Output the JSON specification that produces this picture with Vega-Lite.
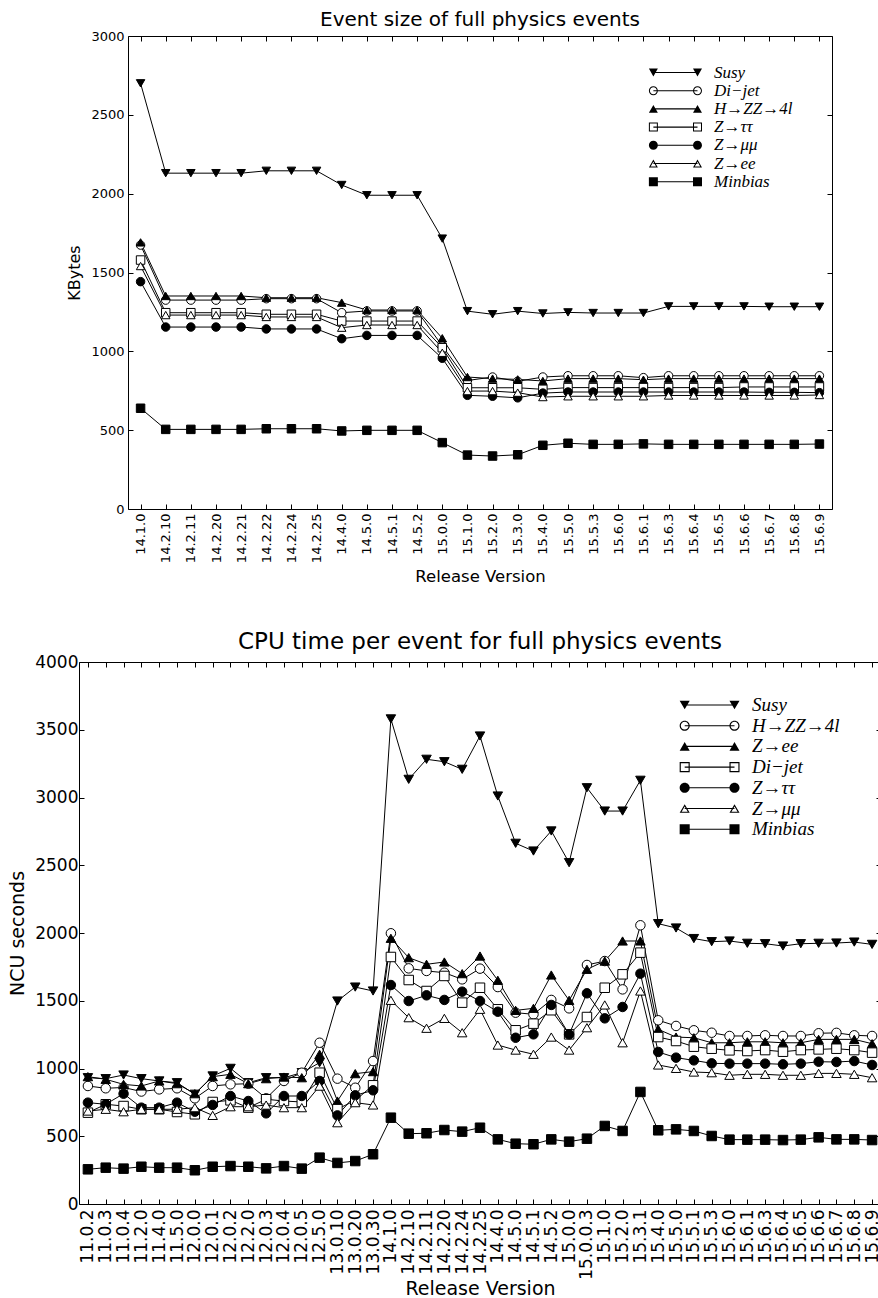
{
"$schema": "https://vega.github.io/schema/vega-lite/v6.json",
"background": "white",
"padding": {"left": 8, "top": 9, "right": 0, "bottom": 0},
"config": {
  "view": {"stroke": "black", "strokeWidth": 1},
  "font": "DejaVu Sans",
  "axis": {"labelFont": "DejaVu Sans", "titleFont": "DejaVu Sans", "labelColor": "black", "titleColor": "black", "tickColor": "black", "titleFontWeight": "normal", "grid": false, "domain": false, "tickWidth": 1},
  "title": {"font": "DejaVu Sans", "fontWeight": "normal", "color": "black"}
},
"datasets": {
"size": [
{"v":"14.1.0","s":"Susy","y":2700},{"v":"14.2.10","s":"Susy","y":2130},{"v":"14.2.11","s":"Susy","y":2130},{"v":"14.2.20","s":"Susy","y":2130},{"v":"14.2.21","s":"Susy","y":2130},{"v":"14.2.22","s":"Susy","y":2145},{"v":"14.2.24","s":"Susy","y":2145},{"v":"14.2.25","s":"Susy","y":2145},{"v":"14.4.0","s":"Susy","y":2055},{"v":"14.5.0","s":"Susy","y":1990},{"v":"14.5.1","s":"Susy","y":1990},{"v":"14.5.2","s":"Susy","y":1990},{"v":"15.0.0","s":"Susy","y":1715},{"v":"15.1.0","s":"Susy","y":1255},{"v":"15.2.0","s":"Susy","y":1235},{"v":"15.3.0","s":"Susy","y":1255},{"v":"15.4.0","s":"Susy","y":1240},{"v":"15.5.0","s":"Susy","y":1247},{"v":"15.5.3","s":"Susy","y":1243},{"v":"15.6.0","s":"Susy","y":1243},{"v":"15.6.1","s":"Susy","y":1243},{"v":"15.6.3","s":"Susy","y":1285},{"v":"15.6.4","s":"Susy","y":1285},{"v":"15.6.5","s":"Susy","y":1285},{"v":"15.6.6","s":"Susy","y":1285},{"v":"15.6.7","s":"Susy","y":1283},{"v":"15.6.8","s":"Susy","y":1283},{"v":"15.6.9","s":"Susy","y":1283},
{"v":"14.1.0","s":"Di−jet","y":1674},{"v":"14.2.10","s":"Di−jet","y":1325},{"v":"14.2.11","s":"Di−jet","y":1325},{"v":"14.2.20","s":"Di−jet","y":1325},{"v":"14.2.21","s":"Di−jet","y":1325},{"v":"14.2.22","s":"Di−jet","y":1334},{"v":"14.2.24","s":"Di−jet","y":1334},{"v":"14.2.25","s":"Di−jet","y":1334},{"v":"14.4.0","s":"Di−jet","y":1245},{"v":"14.5.0","s":"Di−jet","y":1256},{"v":"14.5.1","s":"Di−jet","y":1256},{"v":"14.5.2","s":"Di−jet","y":1256},{"v":"15.0.0","s":"Di−jet","y":1034},{"v":"15.1.0","s":"Di−jet","y":815},{"v":"15.2.0","s":"Di−jet","y":837},{"v":"15.3.0","s":"Di−jet","y":810},{"v":"15.4.0","s":"Di−jet","y":837},{"v":"15.5.0","s":"Di−jet","y":845},{"v":"15.5.3","s":"Di−jet","y":845},{"v":"15.6.0","s":"Di−jet","y":845},{"v":"15.6.1","s":"Di−jet","y":833},{"v":"15.6.3","s":"Di−jet","y":845},{"v":"15.6.4","s":"Di−jet","y":845},{"v":"15.6.5","s":"Di−jet","y":845},{"v":"15.6.6","s":"Di−jet","y":845},{"v":"15.6.7","s":"Di−jet","y":845},{"v":"15.6.8","s":"Di−jet","y":845},{"v":"15.6.9","s":"Di−jet","y":845},
{"v":"14.1.0","s":"H→ZZ→4l","y":1691},{"v":"14.2.10","s":"H→ZZ→4l","y":1351},{"v":"14.2.11","s":"H→ZZ→4l","y":1351},{"v":"14.2.20","s":"H→ZZ→4l","y":1351},{"v":"14.2.21","s":"H→ZZ→4l","y":1351},{"v":"14.2.22","s":"H→ZZ→4l","y":1340},{"v":"14.2.24","s":"H→ZZ→4l","y":1340},{"v":"14.2.25","s":"H→ZZ→4l","y":1340},{"v":"14.4.0","s":"H→ZZ→4l","y":1309},{"v":"14.5.0","s":"H→ZZ→4l","y":1262},{"v":"14.5.1","s":"H→ZZ→4l","y":1262},{"v":"14.5.2","s":"H→ZZ→4l","y":1262},{"v":"15.0.0","s":"H→ZZ→4l","y":1083},{"v":"15.1.0","s":"H→ZZ→4l","y":837},{"v":"15.2.0","s":"H→ZZ→4l","y":827},{"v":"15.3.0","s":"H→ZZ→4l","y":822},{"v":"15.4.0","s":"H→ZZ→4l","y":812},{"v":"15.5.0","s":"H→ZZ→4l","y":827},{"v":"15.5.3","s":"H→ZZ→4l","y":827},{"v":"15.6.0","s":"H→ZZ→4l","y":827},{"v":"15.6.1","s":"H→ZZ→4l","y":820},{"v":"15.6.3","s":"H→ZZ→4l","y":827},{"v":"15.6.4","s":"H→ZZ→4l","y":827},{"v":"15.6.5","s":"H→ZZ→4l","y":827},{"v":"15.6.6","s":"H→ZZ→4l","y":827},{"v":"15.6.7","s":"H→ZZ→4l","y":827},{"v":"15.6.8","s":"H→ZZ→4l","y":827},{"v":"15.6.9","s":"H→ZZ→4l","y":827},
{"v":"14.1.0","s":"Z→ττ","y":1579},{"v":"14.2.10","s":"Z→ττ","y":1245},{"v":"14.2.11","s":"Z→ττ","y":1245},{"v":"14.2.20","s":"Z→ττ","y":1245},{"v":"14.2.21","s":"Z→ττ","y":1245},{"v":"14.2.22","s":"Z→ττ","y":1235},{"v":"14.2.24","s":"Z→ττ","y":1235},{"v":"14.2.25","s":"Z→ττ","y":1235},{"v":"14.4.0","s":"Z→ττ","y":1192},{"v":"14.5.0","s":"Z→ττ","y":1192},{"v":"14.5.1","s":"Z→ττ","y":1192},{"v":"14.5.2","s":"Z→ττ","y":1192},{"v":"15.0.0","s":"Z→ττ","y":1023},{"v":"15.1.0","s":"Z→ττ","y":769},{"v":"15.2.0","s":"Z→ττ","y":769},{"v":"15.3.0","s":"Z→ττ","y":769},{"v":"15.4.0","s":"Z→ττ","y":759},{"v":"15.5.0","s":"Z→ττ","y":770},{"v":"15.5.3","s":"Z→ττ","y":770},{"v":"15.6.0","s":"Z→ττ","y":770},{"v":"15.6.1","s":"Z→ττ","y":770},{"v":"15.6.3","s":"Z→ττ","y":770},{"v":"15.6.4","s":"Z→ττ","y":770},{"v":"15.6.5","s":"Z→ττ","y":770},{"v":"15.6.6","s":"Z→ττ","y":774},{"v":"15.6.7","s":"Z→ττ","y":774},{"v":"15.6.8","s":"Z→ττ","y":774},{"v":"15.6.9","s":"Z→ττ","y":774},
{"v":"14.1.0","s":"Z→μμ","y":1442},{"v":"14.2.10","s":"Z→μμ","y":1154},{"v":"14.2.11","s":"Z→μμ","y":1154},{"v":"14.2.20","s":"Z→μμ","y":1154},{"v":"14.2.21","s":"Z→μμ","y":1154},{"v":"14.2.22","s":"Z→μμ","y":1142},{"v":"14.2.24","s":"Z→μμ","y":1142},{"v":"14.2.25","s":"Z→μμ","y":1142},{"v":"14.4.0","s":"Z→μμ","y":1080},{"v":"14.5.0","s":"Z→μμ","y":1101},{"v":"14.5.1","s":"Z→μμ","y":1101},{"v":"14.5.2","s":"Z→μμ","y":1101},{"v":"15.0.0","s":"Z→μμ","y":956},{"v":"15.1.0","s":"Z→μμ","y":721},{"v":"15.2.0","s":"Z→μμ","y":715},{"v":"15.3.0","s":"Z→μμ","y":705},{"v":"15.4.0","s":"Z→μμ","y":735},{"v":"15.5.0","s":"Z→μμ","y":742},{"v":"15.5.3","s":"Z→μμ","y":742},{"v":"15.6.0","s":"Z→μμ","y":742},{"v":"15.6.1","s":"Z→μμ","y":742},{"v":"15.6.3","s":"Z→μμ","y":742},{"v":"15.6.4","s":"Z→μμ","y":742},{"v":"15.6.5","s":"Z→μμ","y":742},{"v":"15.6.6","s":"Z→μμ","y":742},{"v":"15.6.7","s":"Z→μμ","y":740},{"v":"15.6.8","s":"Z→μμ","y":740},{"v":"15.6.9","s":"Z→μμ","y":738},
{"v":"14.1.0","s":"Z→ee","y":1541},{"v":"14.2.10","s":"Z→ee","y":1230},{"v":"14.2.11","s":"Z→ee","y":1230},{"v":"14.2.20","s":"Z→ee","y":1230},{"v":"14.2.21","s":"Z→ee","y":1230},{"v":"14.2.22","s":"Z→ee","y":1218},{"v":"14.2.24","s":"Z→ee","y":1218},{"v":"14.2.25","s":"Z→ee","y":1218},{"v":"14.4.0","s":"Z→ee","y":1150},{"v":"14.5.0","s":"Z→ee","y":1167},{"v":"14.5.1","s":"Z→ee","y":1167},{"v":"14.5.2","s":"Z→ee","y":1167},{"v":"15.0.0","s":"Z→ee","y":991},{"v":"15.1.0","s":"Z→ee","y":748},{"v":"15.2.0","s":"Z→ee","y":748},{"v":"15.3.0","s":"Z→ee","y":738},{"v":"15.4.0","s":"Z→ee","y":710},{"v":"15.5.0","s":"Z→ee","y":715},{"v":"15.5.3","s":"Z→ee","y":715},{"v":"15.6.0","s":"Z→ee","y":715},{"v":"15.6.1","s":"Z→ee","y":715},{"v":"15.6.3","s":"Z→ee","y":720},{"v":"15.6.4","s":"Z→ee","y":720},{"v":"15.6.5","s":"Z→ee","y":720},{"v":"15.6.6","s":"Z→ee","y":720},{"v":"15.6.7","s":"Z→ee","y":720},{"v":"15.6.8","s":"Z→ee","y":720},{"v":"15.6.9","s":"Z→ee","y":723},
{"v":"14.1.0","s":"Minbias","y":639},{"v":"14.2.10","s":"Minbias","y":505},{"v":"14.2.11","s":"Minbias","y":505},{"v":"14.2.20","s":"Minbias","y":505},{"v":"14.2.21","s":"Minbias","y":505},{"v":"14.2.22","s":"Minbias","y":509},{"v":"14.2.24","s":"Minbias","y":509},{"v":"14.2.25","s":"Minbias","y":509},{"v":"14.4.0","s":"Minbias","y":495},{"v":"14.5.0","s":"Minbias","y":499},{"v":"14.5.1","s":"Minbias","y":499},{"v":"14.5.2","s":"Minbias","y":499},{"v":"15.0.0","s":"Minbias","y":421},{"v":"15.1.0","s":"Minbias","y":342},{"v":"15.2.0","s":"Minbias","y":336},{"v":"15.3.0","s":"Minbias","y":344},{"v":"15.4.0","s":"Minbias","y":404},{"v":"15.5.0","s":"Minbias","y":417},{"v":"15.5.3","s":"Minbias","y":410},{"v":"15.6.0","s":"Minbias","y":410},{"v":"15.6.1","s":"Minbias","y":413},{"v":"15.6.3","s":"Minbias","y":410},{"v":"15.6.4","s":"Minbias","y":410},{"v":"15.6.5","s":"Minbias","y":410},{"v":"15.6.6","s":"Minbias","y":410},{"v":"15.6.7","s":"Minbias","y":410},{"v":"15.6.8","s":"Minbias","y":410},{"v":"15.6.9","s":"Minbias","y":412}
],
"cpu": [
{"v":"11.0.2","s":"Susy","y":932},{"v":"11.0.3","s":"Susy","y":925},{"v":"11.0.4","s":"Susy","y":952},{"v":"11.2.0","s":"Susy","y":925},{"v":"11.4.0","s":"Susy","y":908},{"v":"11.5.0","s":"Susy","y":895},{"v":"12.0.0","s":"Susy","y":810},{"v":"12.0.1","s":"Susy","y":945},{"v":"12.0.2","s":"Susy","y":1001},{"v":"12.2.0","s":"Susy","y":895},{"v":"12.0.3","s":"Susy","y":932},{"v":"12.0.4","s":"Susy","y":932},{"v":"12.0.5","s":"Susy","y":969},{"v":"12.5.0","s":"Susy","y":1043},{"v":"13.0.10","s":"Susy","y":1498},{"v":"13.0.20","s":"Susy","y":1601},{"v":"13.0.30","s":"Susy","y":1572},{"v":"14.1.0","s":"Susy","y":3580},{"v":"14.2.10","s":"Susy","y":3134},{"v":"14.2.11","s":"Susy","y":3282},{"v":"14.2.20","s":"Susy","y":3264},{"v":"14.2.24","s":"Susy","y":3208},{"v":"14.2.25","s":"Susy","y":3454},{"v":"14.4.0","s":"Susy","y":3011},{"v":"14.5.0","s":"Susy","y":2662},{"v":"14.5.1","s":"Susy","y":2605},{"v":"14.5.2","s":"Susy","y":2753},{"v":"15.0.0","s":"Susy","y":2519},{"v":"15.0.0.3","s":"Susy","y":3072},{"v":"15.1.0","s":"Susy","y":2900},{"v":"15.2.0","s":"Susy","y":2900},{"v":"15.3.1","s":"Susy","y":3127},{"v":"15.4.0","s":"Susy","y":2069},{"v":"15.5.0","s":"Susy","y":2037},{"v":"15.5.1","s":"Susy","y":1959},{"v":"15.5.3","s":"Susy","y":1936},{"v":"15.6.0","s":"Susy","y":1941},{"v":"15.6.1","s":"Susy","y":1924},{"v":"15.6.3","s":"Susy","y":1921},{"v":"15.6.4","s":"Susy","y":1904},{"v":"15.6.5","s":"Susy","y":1921},{"v":"15.6.6","s":"Susy","y":1924},{"v":"15.6.7","s":"Susy","y":1926},{"v":"15.6.8","s":"Susy","y":1933},{"v":"15.6.9","s":"Susy","y":1916},
{"v":"11.0.2","s":"H→ZZ→4l","y":871},{"v":"11.0.3","s":"H→ZZ→4l","y":854},{"v":"11.0.4","s":"H→ZZ→4l","y":860},{"v":"11.2.0","s":"H→ZZ→4l","y":830},{"v":"11.4.0","s":"H→ZZ→4l","y":846},{"v":"11.5.0","s":"H→ZZ→4l","y":854},{"v":"12.0.0","s":"H→ZZ→4l","y":780},{"v":"12.0.1","s":"H→ZZ→4l","y":871},{"v":"12.0.2","s":"H→ZZ→4l","y":883},{"v":"12.2.0","s":"H→ZZ→4l","y":888},{"v":"12.0.3","s":"H→ZZ→4l","y":780},{"v":"12.0.4","s":"H→ZZ→4l","y":908},{"v":"12.0.5","s":"H→ZZ→4l","y":969},{"v":"12.5.0","s":"H→ZZ→4l","y":1190},{"v":"13.0.10","s":"H→ZZ→4l","y":925},{"v":"13.0.20","s":"H→ZZ→4l","y":858},{"v":"13.0.30","s":"H→ZZ→4l","y":1055},{"v":"14.1.0","s":"H→ZZ→4l","y":1998},{"v":"14.2.10","s":"H→ZZ→4l","y":1739},{"v":"14.2.11","s":"H→ZZ→4l","y":1720},{"v":"14.2.20","s":"H→ZZ→4l","y":1707},{"v":"14.2.24","s":"H→ZZ→4l","y":1658},{"v":"14.2.25","s":"H→ZZ→4l","y":1737},{"v":"14.4.0","s":"H→ZZ→4l","y":1601},{"v":"14.5.0","s":"H→ZZ→4l","y":1412},{"v":"14.5.1","s":"H→ZZ→4l","y":1400},{"v":"14.5.2","s":"H→ZZ→4l","y":1506},{"v":"15.0.0","s":"H→ZZ→4l","y":1444},{"v":"15.0.0.3","s":"H→ZZ→4l","y":1764},{"v":"15.1.0","s":"H→ZZ→4l","y":1793},{"v":"15.2.0","s":"H→ZZ→4l","y":1584},{"v":"15.3.1","s":"H→ZZ→4l","y":2057},{"v":"15.4.0","s":"H→ZZ→4l","y":1356},{"v":"15.5.0","s":"H→ZZ→4l","y":1314},{"v":"15.5.1","s":"H→ZZ→4l","y":1282},{"v":"15.5.3","s":"H→ZZ→4l","y":1264},{"v":"15.6.0","s":"H→ZZ→4l","y":1240},{"v":"15.6.1","s":"H→ZZ→4l","y":1240},{"v":"15.6.3","s":"H→ZZ→4l","y":1245},{"v":"15.6.4","s":"H→ZZ→4l","y":1240},{"v":"15.6.5","s":"H→ZZ→4l","y":1240},{"v":"15.6.6","s":"H→ZZ→4l","y":1260},{"v":"15.6.7","s":"H→ZZ→4l","y":1263},{"v":"15.6.8","s":"H→ZZ→4l","y":1245},{"v":"15.6.9","s":"H→ZZ→4l","y":1240},
{"v":"11.0.2","s":"Z→ee","y":940},{"v":"11.0.3","s":"Z→ee","y":920},{"v":"11.0.4","s":"Z→ee","y":883},{"v":"11.2.0","s":"Z→ee","y":871},{"v":"11.4.0","s":"Z→ee","y":908},{"v":"11.5.0","s":"Z→ee","y":888},{"v":"12.0.0","s":"Z→ee","y":814},{"v":"12.0.1","s":"Z→ee","y":940},{"v":"12.0.2","s":"Z→ee","y":957},{"v":"12.2.0","s":"Z→ee","y":888},{"v":"12.0.3","s":"Z→ee","y":925},{"v":"12.0.4","s":"Z→ee","y":937},{"v":"12.0.5","s":"Z→ee","y":932},{"v":"12.5.0","s":"Z→ee","y":1105},{"v":"13.0.10","s":"Z→ee","y":760},{"v":"13.0.20","s":"Z→ee","y":962},{"v":"13.0.30","s":"Z→ee","y":977},{"v":"14.1.0","s":"Z→ee","y":1961},{"v":"14.2.10","s":"Z→ee","y":1818},{"v":"14.2.11","s":"Z→ee","y":1769},{"v":"14.2.20","s":"Z→ee","y":1786},{"v":"14.2.24","s":"Z→ee","y":1700},{"v":"14.2.25","s":"Z→ee","y":1830},{"v":"14.4.0","s":"Z→ee","y":1651},{"v":"14.5.0","s":"Z→ee","y":1429},{"v":"14.5.1","s":"Z→ee","y":1444},{"v":"14.5.2","s":"Z→ee","y":1690},{"v":"15.0.0","s":"Z→ee","y":1503},{"v":"15.0.0.3","s":"Z→ee","y":1732},{"v":"15.1.0","s":"Z→ee","y":1793},{"v":"15.2.0","s":"Z→ee","y":1941},{"v":"15.3.1","s":"Z→ee","y":1941},{"v":"15.4.0","s":"Z→ee","y":1289},{"v":"15.5.0","s":"Z→ee","y":1232},{"v":"15.5.1","s":"Z→ee","y":1227},{"v":"15.5.3","s":"Z→ee","y":1190},{"v":"15.6.0","s":"Z→ee","y":1190},{"v":"15.6.1","s":"Z→ee","y":1197},{"v":"15.6.3","s":"Z→ee","y":1197},{"v":"15.6.4","s":"Z→ee","y":1190},{"v":"15.6.5","s":"Z→ee","y":1190},{"v":"15.6.6","s":"Z→ee","y":1215},{"v":"15.6.7","s":"Z→ee","y":1215},{"v":"15.6.8","s":"Z→ee","y":1215},{"v":"15.6.9","s":"Z→ee","y":1183},
{"v":"11.0.2","s":"Di−jet","y":674},{"v":"11.0.3","s":"Di−jet","y":736},{"v":"11.0.4","s":"Di−jet","y":723},{"v":"11.2.0","s":"Di−jet","y":699},{"v":"11.4.0","s":"Di−jet","y":699},{"v":"11.5.0","s":"Di−jet","y":679},{"v":"12.0.0","s":"Di−jet","y":662},{"v":"12.0.1","s":"Di−jet","y":753},{"v":"12.0.2","s":"Di−jet","y":765},{"v":"12.2.0","s":"Di−jet","y":711},{"v":"12.0.3","s":"Di−jet","y":773},{"v":"12.0.4","s":"Di−jet","y":760},{"v":"12.0.5","s":"Di−jet","y":753},{"v":"12.5.0","s":"Di−jet","y":969},{"v":"13.0.10","s":"Di−jet","y":700},{"v":"13.0.20","s":"Di−jet","y":765},{"v":"13.0.30","s":"Di−jet","y":876},{"v":"14.1.0","s":"Di−jet","y":1823},{"v":"14.2.10","s":"Di−jet","y":1653},{"v":"14.2.11","s":"Di−jet","y":1572},{"v":"14.2.20","s":"Di−jet","y":1683},{"v":"14.2.24","s":"Di−jet","y":1486},{"v":"14.2.25","s":"Di−jet","y":1596},{"v":"14.4.0","s":"Di−jet","y":1437},{"v":"14.5.0","s":"Di−jet","y":1282},{"v":"14.5.1","s":"Di−jet","y":1331},{"v":"14.5.2","s":"Di−jet","y":1430},{"v":"15.0.0","s":"Di−jet","y":1252},{"v":"15.0.0.3","s":"Di−jet","y":1380},{"v":"15.1.0","s":"Di−jet","y":1596},{"v":"15.2.0","s":"Di−jet","y":1695},{"v":"15.3.1","s":"Di−jet","y":1855},{"v":"15.4.0","s":"Di−jet","y":1232},{"v":"15.5.0","s":"Di−jet","y":1203},{"v":"15.5.1","s":"Di−jet","y":1161},{"v":"15.5.3","s":"Di−jet","y":1146},{"v":"15.6.0","s":"Di−jet","y":1134},{"v":"15.6.1","s":"Di−jet","y":1129},{"v":"15.6.3","s":"Di−jet","y":1136},{"v":"15.6.4","s":"Di−jet","y":1124},{"v":"15.6.5","s":"Di−jet","y":1136},{"v":"15.6.6","s":"Di−jet","y":1141},{"v":"15.6.7","s":"Di−jet","y":1146},{"v":"15.6.8","s":"Di−jet","y":1136},{"v":"15.6.9","s":"Di−jet","y":1117},
{"v":"11.0.2","s":"Z→ττ","y":748},{"v":"11.0.3","s":"Z→ττ","y":736},{"v":"11.0.4","s":"Z→ττ","y":814},{"v":"11.2.0","s":"Z→ττ","y":711},{"v":"11.4.0","s":"Z→ττ","y":711},{"v":"11.5.0","s":"Z→ττ","y":748},{"v":"12.0.0","s":"Z→ττ","y":681},{"v":"12.0.1","s":"Z→ττ","y":731},{"v":"12.0.2","s":"Z→ττ","y":797},{"v":"12.2.0","s":"Z→ττ","y":760},{"v":"12.0.3","s":"Z→ττ","y":669},{"v":"12.0.4","s":"Z→ττ","y":797},{"v":"12.0.5","s":"Z→ττ","y":797},{"v":"12.5.0","s":"Z→ττ","y":908},{"v":"13.0.10","s":"Z→ττ","y":654},{"v":"13.0.20","s":"Z→ττ","y":802},{"v":"13.0.30","s":"Z→ττ","y":839},{"v":"14.1.0","s":"Z→ττ","y":1616},{"v":"14.2.10","s":"Z→ττ","y":1498},{"v":"14.2.11","s":"Z→ττ","y":1540},{"v":"14.2.20","s":"Z→ττ","y":1506},{"v":"14.2.24","s":"Z→ττ","y":1567},{"v":"14.2.25","s":"Z→ττ","y":1498},{"v":"14.4.0","s":"Z→ττ","y":1419},{"v":"14.5.0","s":"Z→ττ","y":1227},{"v":"14.5.1","s":"Z→ττ","y":1252},{"v":"14.5.2","s":"Z→ττ","y":1469},{"v":"15.0.0","s":"Z→ττ","y":1252},{"v":"15.0.0.3","s":"Z→ττ","y":1555},{"v":"15.1.0","s":"Z→ττ","y":1370},{"v":"15.2.0","s":"Z→ττ","y":1454},{"v":"15.3.1","s":"Z→ττ","y":1700},{"v":"15.4.0","s":"Z→ττ","y":1122},{"v":"15.5.0","s":"Z→ττ","y":1080},{"v":"15.5.1","s":"Z→ττ","y":1060},{"v":"15.5.3","s":"Z→ττ","y":1038},{"v":"15.6.0","s":"Z→ττ","y":1036},{"v":"15.6.1","s":"Z→ττ","y":1036},{"v":"15.6.3","s":"Z→ττ","y":1036},{"v":"15.6.4","s":"Z→ττ","y":1031},{"v":"15.6.5","s":"Z→ττ","y":1036},{"v":"15.6.6","s":"Z→ττ","y":1050},{"v":"15.6.7","s":"Z→ττ","y":1048},{"v":"15.6.8","s":"Z→ττ","y":1055},{"v":"15.6.9","s":"Z→ττ","y":1026},
{"v":"11.0.2","s":"Z→μμ","y":686},{"v":"11.0.3","s":"Z→μμ","y":699},{"v":"11.0.4","s":"Z→μμ","y":681},{"v":"11.2.0","s":"Z→μμ","y":699},{"v":"11.4.0","s":"Z→μμ","y":699},{"v":"11.5.0","s":"Z→μμ","y":699},{"v":"12.0.0","s":"Z→μμ","y":711},{"v":"12.0.1","s":"Z→μμ","y":654},{"v":"12.0.2","s":"Z→μμ","y":718},{"v":"12.2.0","s":"Z→μμ","y":718},{"v":"12.0.3","s":"Z→μμ","y":730},{"v":"12.0.4","s":"Z→μμ","y":711},{"v":"12.0.5","s":"Z→μμ","y":711},{"v":"12.5.0","s":"Z→μμ","y":870},{"v":"13.0.10","s":"Z→μμ","y":600},{"v":"13.0.20","s":"Z→μμ","y":748},{"v":"13.0.30","s":"Z→μμ","y":731},{"v":"14.1.0","s":"Z→μμ","y":1503},{"v":"14.2.10","s":"Z→μμ","y":1375},{"v":"14.2.11","s":"Z→μμ","y":1297},{"v":"14.2.20","s":"Z→μμ","y":1370},{"v":"14.2.24","s":"Z→μμ","y":1264},{"v":"14.2.25","s":"Z→μμ","y":1437},{"v":"14.4.0","s":"Z→μμ","y":1173},{"v":"14.5.0","s":"Z→μμ","y":1136},{"v":"14.5.1","s":"Z→μμ","y":1105},{"v":"14.5.2","s":"Z→μμ","y":1232},{"v":"15.0.0","s":"Z→μμ","y":1136},{"v":"15.0.0.3","s":"Z→μμ","y":1301},{"v":"15.1.0","s":"Z→μμ","y":1469},{"v":"15.2.0","s":"Z→μμ","y":1190},{"v":"15.3.1","s":"Z→μμ","y":1572},{"v":"15.4.0","s":"Z→μμ","y":1026},{"v":"15.5.0","s":"Z→μμ","y":1001},{"v":"15.5.1","s":"Z→μμ","y":974},{"v":"15.5.3","s":"Z→μμ","y":969},{"v":"15.6.0","s":"Z→μμ","y":950},{"v":"15.6.1","s":"Z→μμ","y":957},{"v":"15.6.3","s":"Z→μμ","y":957},{"v":"15.6.4","s":"Z→μμ","y":950},{"v":"15.6.5","s":"Z→μμ","y":950},{"v":"15.6.6","s":"Z→μμ","y":964},{"v":"15.6.7","s":"Z→μμ","y":964},{"v":"15.6.8","s":"Z→μμ","y":957},{"v":"15.6.9","s":"Z→μμ","y":932},
{"v":"11.0.2","s":"Minbias","y":256},{"v":"11.0.3","s":"Minbias","y":268},{"v":"11.0.4","s":"Minbias","y":261},{"v":"11.2.0","s":"Minbias","y":275},{"v":"11.4.0","s":"Minbias","y":268},{"v":"11.5.0","s":"Minbias","y":268},{"v":"12.0.0","s":"Minbias","y":249},{"v":"12.0.1","s":"Minbias","y":275},{"v":"12.0.2","s":"Minbias","y":280},{"v":"12.2.0","s":"Minbias","y":275},{"v":"12.0.3","s":"Minbias","y":263},{"v":"12.0.4","s":"Minbias","y":280},{"v":"12.0.5","s":"Minbias","y":261},{"v":"12.5.0","s":"Minbias","y":342},{"v":"13.0.10","s":"Minbias","y":303},{"v":"13.0.20","s":"Minbias","y":317},{"v":"13.0.30","s":"Minbias","y":367},{"v":"14.1.0","s":"Minbias","y":637},{"v":"14.2.10","s":"Minbias","y":519},{"v":"14.2.11","s":"Minbias","y":522},{"v":"14.2.20","s":"Minbias","y":546},{"v":"14.2.24","s":"Minbias","y":534},{"v":"14.2.25","s":"Minbias","y":563},{"v":"14.4.0","s":"Minbias","y":477},{"v":"14.5.0","s":"Minbias","y":445},{"v":"14.5.1","s":"Minbias","y":441},{"v":"14.5.2","s":"Minbias","y":477},{"v":"15.0.0","s":"Minbias","y":460},{"v":"15.0.0.3","s":"Minbias","y":482},{"v":"15.1.0","s":"Minbias","y":576},{"v":"15.2.0","s":"Minbias","y":539},{"v":"15.3.1","s":"Minbias","y":827},{"v":"15.4.0","s":"Minbias","y":544},{"v":"15.5.0","s":"Minbias","y":551},{"v":"15.5.1","s":"Minbias","y":539},{"v":"15.5.3","s":"Minbias","y":502},{"v":"15.6.0","s":"Minbias","y":475},{"v":"15.6.1","s":"Minbias","y":475},{"v":"15.6.3","s":"Minbias","y":475},{"v":"15.6.4","s":"Minbias","y":472},{"v":"15.6.5","s":"Minbias","y":475},{"v":"15.6.6","s":"Minbias","y":492},{"v":"15.6.7","s":"Minbias","y":477},{"v":"15.6.8","s":"Minbias","y":477},{"v":"15.6.9","s":"Minbias","y":472}
]
},
"spacing": 153,
"bounds": "flush",
"center": true,
"resolve": {"scale": {"x": "independent", "y": "independent", "shape": "independent", "fill": "independent"}, "legend": {"shape": "independent", "fill": "independent"}},
"vconcat": [
{
  "width": 704, "height": 473,
  "title": {"text": "Event size of full physics events", "fontSize": 20, "offset": 0},
  "data": {"name": "size"},
  "layer": [
    {
      "mark": {"type": "line", "color": "black", "strokeWidth": 1},
      "encoding": {
        "x": {"field": "v", "type": "ordinal",
              "scale": {"type": "point", "padding": 0.5, "domain": ["14.1.0","14.2.10","14.2.11","14.2.20","14.2.21","14.2.22","14.2.24","14.2.25","14.4.0","14.5.0","14.5.1","14.5.2","15.0.0","15.1.0","15.2.0","15.3.0","15.4.0","15.5.0","15.5.3","15.6.0","15.6.1","15.6.3","15.6.4","15.6.5","15.6.6","15.6.7","15.6.8","15.6.9"]},
              "axis": {"orient": "bottom", "title": "Release Version", "titleFontSize": 16.5, "titlePadding": 6, "labelFontSize": 13, "labelAngle": 270, "labelPadding": 9, "tickSize": -5}},
        "y": {"field": "y", "type": "quantitative", "scale": {"domain": [0, 3000], "nice": false},
              "axis": {"orient": "left", "title": "KBytes", "titleFontSize": 16, "titlePadding": 8, "labelFontSize": 13, "labelPadding": 9, "tickSize": -5, "values": [0,500,1000,1500,2000,2500,3000], "format": "d"}},
        "detail": {"field": "s", "type": "nominal"},
        "order": {"value": null}
      }
    },
    {
      "mark": {"type": "point", "filled": true, "stroke": "black", "strokeWidth": 1, "size": 72, "opacity": 1},
      "encoding": {
        "x": {"field": "v", "type": "ordinal", "axis": {"orient": "top", "title": null, "labels": false, "tickSize": -5}},
        "y": {"field": "y", "type": "quantitative", "axis": {"orient": "right", "title": null, "labels": false, "tickSize": -5, "values": [0,500,1000,1500,2000,2500,3000]}},
        "shape": {"field": "s", "type": "nominal",
                  "scale": {"domain": ["Minbias","Z→ee","Z→μμ","Z→ττ","H→ZZ→4l","Di−jet","Susy"], "range": ["square","triangle-up","circle","square","triangle-up","circle","triangle-down"]},
                  "legend": null},
        "fill": {"field": "s", "type": "nominal",
                 "scale": {"domain": ["Minbias","Z→ee","Z→μμ","Z→ττ","H→ZZ→4l","Di−jet","Susy"], "range": ["black","white","black","white","black","white","black"]},
                 "legend": null}
      }
    },
    {
      "mark": {"type": "point", "filled": true, "color": "black", "strokeWidth": 0, "size": 72, "opacity": 0},
      "encoding": {
        "x": {"field": "v", "type": "ordinal", "axis": null},
        "y": {"field": "y", "type": "quantitative", "axis": null},
        "shape": {"field": "s", "type": "nominal",
                  "scale": {"domain": ["Susy","Di−jet","H→ZZ→4l","Z→ττ","Z→μμ","Z→ee","Minbias"],
                            "range": [
"M-10.4,-0.13L0,-0.13L0,0.13L-10.4,0.13ZM-10.4,0.918L-11.46,-0.918L-9.34,-0.918ZM0,0.918L-1.06,-0.918L1.06,-0.918Z",
"M-10.4,-0.13L0,-0.13L0,0.13L-10.4,0.13ZM-9.34,0A1.06,1.06,0,1,1,-11.46,0A1.06,1.06,0,1,1,-9.34,0ZM-9.58,0A0.82,0.82,0,1,0,-11.22,0A0.82,0.82,0,1,0,-9.58,0ZM1.06,0A1.06,1.06,0,1,1,-1.06,0A1.06,1.06,0,1,1,1.06,0ZM0.82,0A0.82,0.82,0,1,0,-0.82,0A0.82,0.82,0,1,0,0.82,0Z",
"M-10.4,-0.13L0,-0.13L0,0.13L-10.4,0.13ZM-10.4,-0.918L-9.34,0.918L-11.46,0.918ZM0,-0.918L1.06,0.918L-1.06,0.918Z",
"M-10.4,-0.13L0,-0.13L0,0.13L-10.4,0.13ZM-11.46,-1.06L-9.34,-1.06L-9.34,1.06L-11.46,1.06ZM-11.22,-0.82L-11.22,0.82L-9.58,0.82L-9.58,-0.82ZM-1.06,-1.06L1.06,-1.06L1.06,1.06L-1.06,1.06ZM-0.82,-0.82L-0.82,0.82L0.82,0.82L0.82,-0.82Z",
"M-10.4,-0.13L0,-0.13L0,0.13L-10.4,0.13ZM-9.34,0A1.06,1.06,0,1,1,-11.46,0A1.06,1.06,0,1,1,-9.34,0ZM1.06,0A1.06,1.06,0,1,1,-1.06,0A1.06,1.06,0,1,1,1.06,0Z",
"M-10.4,-0.13L0,-0.13L0,0.13L-10.4,0.13ZM-10.4,-0.918L-9.34,0.918L-11.46,0.918ZM-10.4,-0.438L-11.044,0.678L-9.756,0.678ZM0,-0.918L1.06,0.918L-1.06,0.918ZM0,-0.438L-0.644,0.678L0.644,0.678Z",
"M-10.4,-0.13L0,-0.13L0,0.13L-10.4,0.13ZM-11.46,-1.06L-9.34,-1.06L-9.34,1.06L-11.46,1.06ZM-1.06,-1.06L1.06,-1.06L1.06,1.06L-1.06,1.06Z"]},
                  "legend": {"title": null, "orient": "none", "legendX": 561, "legendY": 28, "labelFont": "Liberation Serif", "labelFontStyle": "italic", "labelFontSize": 17, "labelColor": "black", "labelOffset": 8, "rowPadding": 0.2, "symbolSize": 72, "symbolOpacity": 1, "symbolFillColor": "black", "symbolStrokeWidth": 0}}
      }
    }
  ],
  "resolve": {"axis": {"x": "independent", "y": "independent"}, "scale": {"shape": "independent", "fill": "independent"}, "legend": {"shape": "independent", "fill": "independent"}}
},
{
  "width": 802, "height": 542,
  "title": {"text": "CPU time per event for full physics events", "fontSize": 23, "offset": -1},
  "data": {"name": "cpu"},
  "layer": [
    {
      "mark": {"type": "line", "color": "black", "strokeWidth": 1},
      "encoding": {
        "x": {"field": "v", "type": "ordinal",
              "scale": {"type": "point", "padding": 0.5, "domain": ["11.0.2","11.0.3","11.0.4","11.2.0","11.4.0","11.5.0","12.0.0","12.0.1","12.0.2","12.2.0","12.0.3","12.0.4","12.0.5","12.5.0","13.0.10","13.0.20","13.0.30","14.1.0","14.2.10","14.2.11","14.2.20","14.2.24","14.2.25","14.4.0","14.5.0","14.5.1","14.5.2","15.0.0","15.0.0.3","15.1.0","15.2.0","15.3.1","15.4.0","15.5.0","15.5.1","15.5.3","15.6.0","15.6.1","15.6.3","15.6.4","15.6.5","15.6.6","15.6.7","15.6.8","15.6.9"]},
              "axis": {"orient": "bottom", "title": "Release Version", "titleFontSize": 19, "titlePadding": 0, "labelFontSize": 17, "labelAngle": 270, "labelPadding": 10, "tickSize": -5}},
        "y": {"field": "y", "type": "quantitative", "scale": {"domain": [0, 4000], "nice": false},
              "axis": {"orient": "left", "title": "NCU seconds", "titleFontSize": 19, "titlePadding": 7, "labelFontSize": 17, "labelPadding": 6, "tickSize": -5, "values": [0,500,1000,1500,2000,2500,3000,3500,4000], "format": "d"}},
        "detail": {"field": "s", "type": "nominal"},
        "order": {"value": null}
      }
    },
    {
      "mark": {"type": "point", "filled": true, "stroke": "black", "strokeWidth": 1, "size": 90, "opacity": 1},
      "encoding": {
        "x": {"field": "v", "type": "ordinal", "axis": {"orient": "top", "title": null, "labels": false, "tickSize": -5}},
        "y": {"field": "y", "type": "quantitative", "axis": {"orient": "right", "title": null, "labels": false, "tickSize": -5, "values": [0,500,1000,1500,2000,2500,3000,3500,4000]}},
        "shape": {"field": "s", "type": "nominal",
                  "scale": {"domain": ["Minbias","Z→μμ","Z→ττ","Di−jet","Z→ee","H→ZZ→4l","Susy"], "range": ["square","triangle-up","circle","square","triangle-up","circle","triangle-down"]},
                  "legend": null},
        "fill": {"field": "s", "type": "nominal",
                 "scale": {"domain": ["Minbias","Z→μμ","Z→ττ","Di−jet","Z→ee","H→ZZ→4l","Susy"], "range": ["black","white","black","white","black","white","black"]},
                 "legend": null}
      }
    },
    {
      "mark": {"type": "point", "filled": true, "color": "black", "strokeWidth": 0, "size": 90, "opacity": 0},
      "encoding": {
        "x": {"field": "v", "type": "ordinal", "axis": null},
        "y": {"field": "y", "type": "quantitative", "axis": null},
        "shape": {"field": "s", "type": "nominal",
                  "scale": {"domain": ["Susy","H→ZZ→4l","Z→ee","Di−jet","Z→ττ","Z→μμ","Minbias"],
                            "range": [
"M-10.5,-0.12L0,-0.12L0,0.12L-10.5,0.12ZM-10.5,0.918L-11.56,-0.918L-9.44,-0.918ZM0,0.918L-1.06,-0.918L1.06,-0.918Z",
"M-10.5,-0.12L0,-0.12L0,0.12L-10.5,0.12ZM-9.44,0A1.06,1.06,0,1,1,-11.56,0A1.06,1.06,0,1,1,-9.44,0ZM-9.68,0A0.82,0.82,0,1,0,-11.32,0A0.82,0.82,0,1,0,-9.68,0ZM1.06,0A1.06,1.06,0,1,1,-1.06,0A1.06,1.06,0,1,1,1.06,0ZM0.82,0A0.82,0.82,0,1,0,-0.82,0A0.82,0.82,0,1,0,0.82,0Z",
"M-10.5,-0.12L0,-0.12L0,0.12L-10.5,0.12ZM-10.5,-0.918L-9.44,0.918L-11.56,0.918ZM0,-0.918L1.06,0.918L-1.06,0.918Z",
"M-10.5,-0.12L0,-0.12L0,0.12L-10.5,0.12ZM-11.56,-1.06L-9.44,-1.06L-9.44,1.06L-11.56,1.06ZM-11.32,-0.82L-11.32,0.82L-9.68,0.82L-9.68,-0.82ZM-1.06,-1.06L1.06,-1.06L1.06,1.06L-1.06,1.06ZM-0.82,-0.82L-0.82,0.82L0.82,0.82L0.82,-0.82Z",
"M-10.5,-0.12L0,-0.12L0,0.12L-10.5,0.12ZM-9.44,0A1.06,1.06,0,1,1,-11.56,0A1.06,1.06,0,1,1,-9.44,0ZM1.06,0A1.06,1.06,0,1,1,-1.06,0A1.06,1.06,0,1,1,1.06,0Z",
"M-10.5,-0.12L0,-0.12L0,0.12L-10.5,0.12ZM-10.5,-0.918L-9.44,0.918L-11.56,0.918ZM-10.5,-0.438L-11.144,0.678L-9.856,0.678ZM0,-0.918L1.06,0.918L-1.06,0.918ZM0,-0.438L-0.644,0.678L0.644,0.678Z",
"M-10.5,-0.12L0,-0.12L0,0.12L-10.5,0.12ZM-11.56,-1.06L-9.44,-1.06L-9.44,1.06L-11.56,1.06ZM-1.06,-1.06L1.06,-1.06L1.06,1.06L-1.06,1.06Z"]},
                  "legend": {"title": null, "orient": "none", "legendX": 646, "legendY": 33.5, "labelFont": "Liberation Serif", "labelFontStyle": "italic", "labelFontSize": 19, "labelColor": "black", "labelOffset": 8, "rowPadding": 0.7, "symbolSize": 90, "symbolOpacity": 1, "symbolFillColor": "black", "symbolStrokeWidth": 0}}
      }
    }
  ],
  "resolve": {"axis": {"x": "independent", "y": "independent"}, "scale": {"shape": "independent", "fill": "independent"}, "legend": {"shape": "independent", "fill": "independent"}}
}
]
}
